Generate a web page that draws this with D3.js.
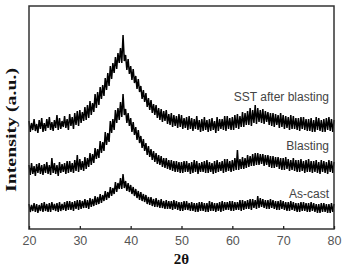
<!DOCTYPE html>
<html>
<head>
<meta charset="utf-8">
<script src="https://cdn.jsdelivr.net/npm/d3@7"></script>
<style>
  body { margin: 0; background: #fff; }
  svg { display: block; }
</style>
</head>
<body>
<div class="chart"></div>
<script>
// 2theta from 20 to 80 in 0.25 steps, intensity (a.u.)
const thetaStart = 20, thetaStep = 0.25
const xTicks = [20, 30, 40, 50, 60, 70, 80]
const labels = ['SST after blasting', 'Blasting', 'As-cast']

const sstBlasting = [
  108,97,106,99, 110,98,105,96, 109,100,111,97, 106,98,110,101, 112,99,107,98,
  109,101,114,99, 111,100,108,102, 113,101,110,99, 115,103,112,100, 116,104,118,103,
  119,106,117,108, 122,109,124,111, 128,114,126,117, 135,121,137,124, 142,130,144,133,
  151,139,156,143, 163,150,166,156, 172,160,176,166, 181,166,194,168, 174,159,170,155,
  163,149,160,146, 153,140,150,137, 143,130,139,127, 136,122,131,119, 129,116,125,114,
  124,111,121,109, 120,107,118,108, 119,105,115,104, 116,102,114,103, 113,101,115,102,
  114,100,111,101, 112,99,113,100, 111,98,110,100, 113,99,109,97, 110,98,112,99,
  109,97,110,98, 111,99,108,96, 112,98,110,100, 110,99,113,98, 113,100,111,99,
  112,99,114,101, 115,100,113,102, 117,102,116,104, 118,104,121,103, 119,106,124,105,
  121,107,119,106, 120,105,118,107, 117,104,116,103, 116,102,115,104, 114,101,116,102,
  114,100,113,101, 112,99,114,100, 113,100,111,99, 111,98,112,100, 112,99,110,98,
  110,98,111,97, 109,97,112,99, 111,98,109,97, 110,97,111,99, 112,98,110,97,
  109
]

const blasting = [
  64,54,66,55, 63,53,65,56, 66,55,64,54, 65,56,67,55, 64,54,71,56,
  66,55,64,53, 67,56,65,57, 66,55,68,56, 68,57,66,56, 69,58,74,57,
  70,59,68,58, 72,60,71,62, 76,64,75,66, 81,70,80,71, 88,76,87,78,
  97,84,96,87, 108,96,110,99, 119,106,121,109, 127,112,135,114, 120,106,116,103,
  111,97,107,94, 102,89,99,86, 93,81,90,78, 86,74,83,72, 80,69,78,67,
  76,65,74,64, 73,62,71,61, 71,60,69,59, 69,58,68,57, 68,57,67,56,
  67,56,68,57, 68,57,66,55, 67,56,69,57, 68,55,66,57, 67,57,68,56,
  69,56,67,57, 66,55,68,56, 69,57,67,58, 68,56,70,57, 70,58,68,57,
  69,58,71,59, 79,59,70,60, 72,60,71,61, 74,62,73,63, 75,63,76,64,
  76,64,75,65, 75,63,74,64, 74,62,73,61, 73,61,72,62, 72,60,71,59,
  71,59,72,60, 70,58,69,59, 71,58,69,57, 69,57,70,58, 68,56,69,57,
  70,57,68,56, 68,57,69,56, 67,55,69,57, 68,56,67,55, 69,57,68,56,
  67
]

const asCast = [
  25,17,24,18, 26,17,25,16, 24,18,26,17, 27,18,25,17, 26,17,27,19,
  25,18,26,17, 27,18,25,19, 27,18,28,19, 28,19,27,18, 28,20,29,19,
  29,20,28,21, 30,21,29,20, 31,22,30,23, 33,24,32,25, 35,26,34,28,
  38,29,37,31, 42,33,41,35, 47,37,46,40, 51,40,55,41, 48,38,46,37,
  44,35,42,33, 40,31,38,29, 37,28,35,27, 34,25,32,24, 32,23,30,22,
  31,22,29,21, 30,21,28,20, 29,20,28,20, 28,19,29,20, 28,19,27,18,
  27,18,28,19, 28,19,26,18, 27,18,26,17, 26,17,27,18, 27,18,26,17,
  26,17,28,18, 27,18,26,17, 26,18,27,17, 28,18,27,19, 27,19,28,18,
  28,18,27,19, 27,19,29,18, 29,19,28,20, 29,20,30,19, 30,21,29,20,
  33,21,31,22, 30,21,29,20, 29,20,30,21, 29,20,28,19, 28,19,29,20,
  28,19,27,18, 27,18,28,19, 27,18,26,17, 26,17,27,18, 27,18,26,17,
  26,17,27,18, 26,17,25,16, 25,16,26,17, 26,17,25,16, 25,16,26,17,
  25
]

const series = [sstBlasting, blasting, asCast]

let w = 342,
    h = 268,
    mLeft = 29,
    mRight = 334,
    mTop = 6,
    mBottom = 229

const svg = d3.select('.chart')
              .append('svg')
              .attr('width', w)
              .attr('height', h)

const xScale = d3.scaleLinear()
                 .domain([20, 80])
                 .range([mLeft, mRight])

const yScale = d3.scaleLinear()
                 .domain([0, mBottom - mTop])
                 .range([mBottom, mTop])

const line = d3.line()
               .x((d, i) => xScale(thetaStart + i * thetaStep))
               .y((d) => yScale(d))

series.forEach((s) => {
  svg.append('path')
     .datum(s)
     .attr('d', line)
     .attr('fill', 'none')
     .attr('stroke', '#000')
     .attr('stroke-width', 1.5)
     .attr('stroke-linejoin', 'miter')
})

// frame
svg.append('rect')
   .attr('x', mLeft)
   .attr('y', mTop)
   .attr('width', mRight - mLeft)
   .attr('height', mBottom - mTop)
   .attr('fill', 'none')
   .attr('stroke', '#333')
   .attr('stroke-width', 1.5)

const xAxis = d3.axisBottom(xScale)
                .tickValues(xTicks)
                .tickSizeInner(-3)
                .tickSizeOuter(0)
                .tickPadding(7)
                .tickFormat(d3.format('d'))

const gx = svg.append('g')
              .attr('transform', `translate(0,${mBottom})`)
              .call(xAxis)
gx.select('.domain').remove()
gx.selectAll('line').attr('stroke', '#222').attr('stroke-width', 1.3)
gx.selectAll('text')
  .attr('fill', '#555')
  .style('font-family', 'Liberation Sans, Arial, sans-serif')
  .style('font-size', '12.5px')

// series labels
const labelY = [101, 150, 198]
labels.forEach((t, i) => {
  svg.append('text')
     .text(t)
     .attr('x', 329)
     .attr('y', labelY[i])
     .attr('text-anchor', 'end')
     .attr('fill', '#444')
     .style('font-family', 'Liberation Sans, Arial, sans-serif')
     .style('font-size', '12px')
})

// axis titles
svg.append('text')
   .text('Intensity (a.u.)')
   .attr('transform', 'translate(16,130) rotate(-90)')
   .attr('text-anchor', 'middle')
   .attr('textLength', 124)
   .attr('lengthAdjust', 'spacingAndGlyphs')
   .attr('fill', '#111')
   .style('font-family', 'Liberation Serif, Times New Roman, serif')
   .style('font-weight', 'bold')
   .style('font-size', '15px')

svg.append('text')
   .text('2θ')
   .attr('x', (mLeft + mRight) / 2)
   .attr('y', 264)
   .attr('text-anchor', 'middle')
   .attr('fill', '#111')
   .style('font-family', 'Liberation Serif, Times New Roman, serif')
   .style('font-weight', 'bold')
   .style('font-size', '15px')
</script>
</body>
</html>
